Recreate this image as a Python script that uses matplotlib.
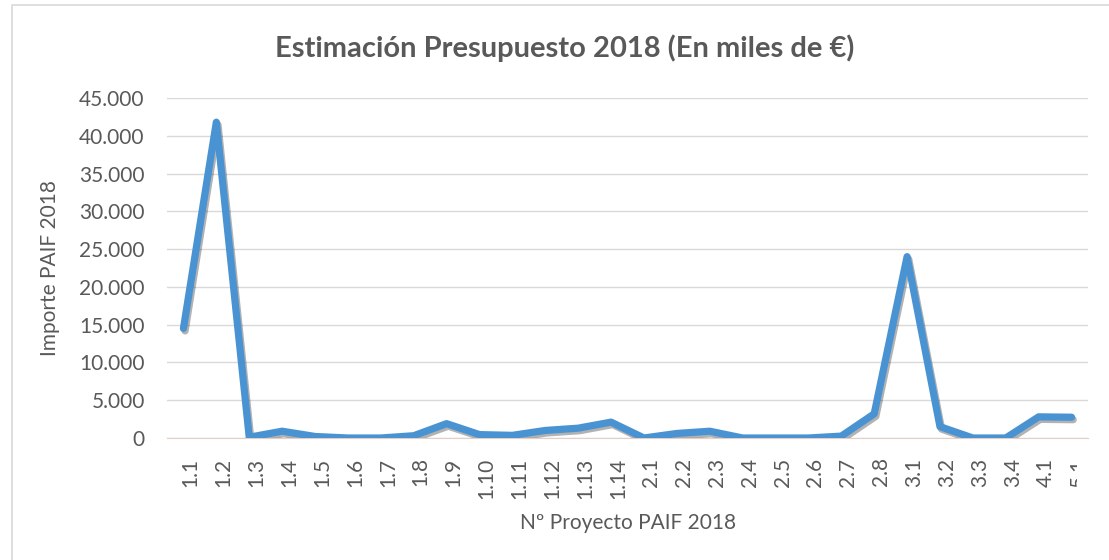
import matplotlib
matplotlib.use("Agg")
import matplotlib.pyplot as plt
import matplotlib.patheffects as pe
from matplotlib.ticker import FuncFormatter
from matplotlib.patches import Rectangle
from matplotlib.transforms import ScaledTranslation

proyectos = ["1.1", "1.2", "1.3", "1.4", "1.5", "1.6", "1.7", "1.8", "1.9", "1.10",
             "1.11", "1.12", "1.13", "1.14", "2.1", "2.2", "2.3", "2.4", "2.5", "2.6",
             "2.7", "2.8", "3.1", "3.2", "3.3", "3.4", "4.1", "5.1"]
importe = [14500, 41800, 100, 900, 200, 0, 0, 300, 1900, 450,
           350, 1000, 1300, 2100, 0, 600, 900, 0, 0, 0,
           250, 3200, 24000, 1500, 0, 0, 2800, 2750]
yticks = [0, 5000, 10000, 15000, 20000, 25000, 30000, 35000, 40000, 45000]

plt.rcParams['font.family'] = ['Lato', 'DejaVu Sans']
gris = '#595959'

fig = plt.figure(figsize=(11.09, 5.6), dpi=100)
ax = fig.add_axes([167/1109, (560-438)/560, (1088-167)/1109, 340/560])

x = list(range(len(proyectos)))
ax.plot(x, importe, color='#4a93d2', lw=5.2, solid_capstyle='round', solid_joinstyle='round',
        path_effects=[pe.SimpleLineShadow(offset=(1.2, -1.8), shadow_color='k', alpha=0.3),
                      pe.Normal()], zorder=3)

ax.set_xlim(-0.5, len(proyectos) - 0.5)
ax.set_ylim(0, 45000)
ax.set_yticks(yticks)
ax.yaxis.set_major_formatter(FuncFormatter(lambda v, p: f"{int(v):,}".replace(",", ".")))
ax.set_xticks(x)
ax.set_xticklabels(proyectos, rotation=90)
ax.grid(axis='y', color='#d9d9d9', lw=1)
ax.set_axisbelow(True)
for s in ['top', 'right', 'left']:
    ax.spines[s].set_visible(False)
ax.spines['bottom'].set_color('#e3cfc6')
ax.tick_params(length=0, labelsize=15, labelcolor=gris)
ax.tick_params(axis='y', pad=16)
ax.tick_params(axis='x', pad=14)

# category labels sit a little right of the points
shift = ScaledTranslation(7/100, 0, fig.dpi_scale_trans)
for lbl in ax.get_xticklabels():
    lbl.set_transform(lbl.get_transform() + shift)

fig.text(565/1109, 1 - 48/560, "Estimación Presupuesto 2018 (En miles de €)", fontsize=21,
         fontweight='bold', color=gris, ha='center', va='center')
ax.set_xlabel("Nº Proyecto PAIF 2018", fontsize=15, color=gris, labelpad=10)
ax.set_ylabel("Importe PAIF 2018", fontsize=15, color=gris)
ax.yaxis.set_label_coords((60 - 167) / 921, 0.5)

# the last label is cut at the chart edge
fig.add_artist(Rectangle((1077/1109, 50/560), 0.05, 65/560, transform=fig.transFigure,
                         fc='white', ec='none', zorder=10))

fig.add_artist(Rectangle((12/1109, -0.02), 1.1, 1 - 5/560 + 0.02, transform=fig.transFigure,
                         fill=False, ec='#d9d9d9', lw=1.2))

fig.savefig("out.png", dpi=100)
